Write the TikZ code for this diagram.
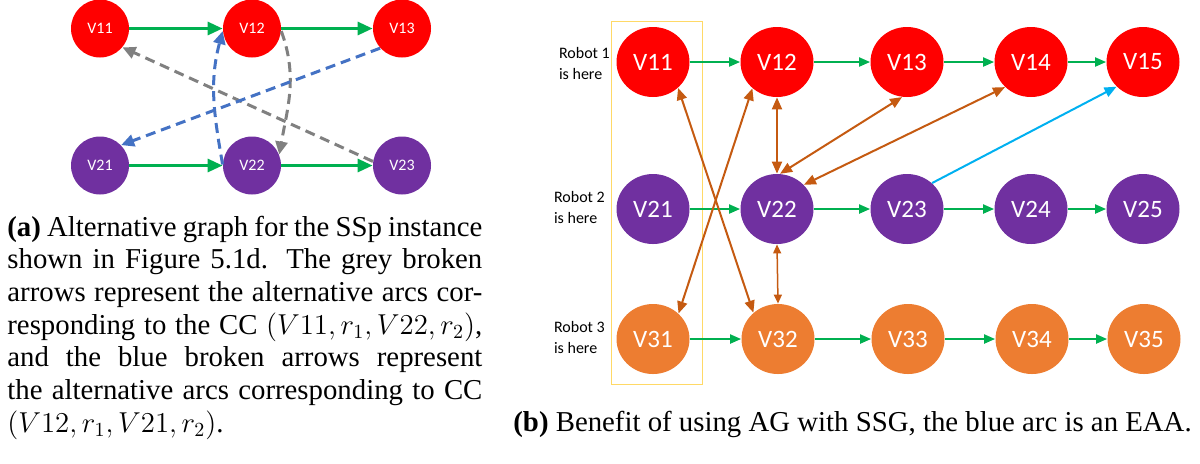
\documentclass[tikz,border=0pt]{standalone}
\usepackage{fontspec}
\setmainfont{Liberation Serif}
\newfontfamily\calibri{Carlito}
\usetikzlibrary{shapes.geometric,arrows.meta}

\definecolor{nodered}{HTML}{FF0000}
\definecolor{nodepurple}{HTML}{7030A0}
\definecolor{nodeorange}{HTML}{ED7D31}
\definecolor{arcgreen}{HTML}{00B050}
\definecolor{arcbrown}{HTML}{C55A11}
\definecolor{arcblue}{HTML}{00B0F0}
\definecolor{dashblue}{HTML}{4472C4}
\definecolor{dashgrey}{HTML}{808080}
\definecolor{boxyellow}{HTML}{FFD966}

\tikzset{
  smallv/.style={circle, minimum size=29pt, inner sep=0pt, text=white,
    font=\calibri\fontsize{8}{9}\selectfont},
  bigv/.style={ellipse, minimum width=36.5pt, minimum height=35pt, inner sep=0pt, text=white,
    font=\calibri\fontsize{12.5}{14}\selectfont},
  robotlabel/.style={anchor=west, align=left, font=\calibri\fontsize{8}{10.5}\selectfont},
  capfont/.style={font=\fontsize{14.4}{16.35}\selectfont},
  % arcs of graph (a)
  seqa/.style={draw=arcgreen, line width=1.5pt, -{Triangle[length=7.5pt,width=6.5pt]}},
  altgrey/.style={draw=dashgrey, line width=1.5pt, dash pattern=on 5pt off 3pt,
    -{Triangle[length=6.5pt,width=6pt]}},
  altblue/.style={draw=dashblue, line width=1.5pt, dash pattern=on 5pt off 3pt,
    -{Triangle[length=6.5pt,width=6pt]}},
  % arcs of graph (b)
  seqb/.style={draw=arcgreen, line width=1pt, -{Triangle[length=5.5pt,width=4.5pt]}},
  pairarc/.style={draw=arcbrown, line width=1pt,
    {Triangle[length=6pt,width=5pt]}-{Triangle[length=6pt,width=5pt]}},
  eaaarc/.style={draw=arcblue, line width=1pt, -{Triangle[length=6pt,width=5pt]}}
}

\begin{document}
\begin{tikzpicture}[x=0.5pt,y=-0.5pt]
\useasboundingbox (0,0) rectangle (1200,463);

% Graph (a)
\node[smallv, fill=nodered] (a11) at (100,28.5) {V11};
\node[smallv, fill=nodered] (a12) at (252,28.5) {V12};
\node[smallv, fill=nodered] (a13) at (402,28.5) {V13};
\node[smallv, fill=nodepurple] (a21) at (100,165.5) {V21};
\node[smallv, fill=nodepurple] (a22) at (252,165.5) {V22};
\node[smallv, fill=nodepurple] (a23) at (402,165.5) {V23};

\draw[seqa] (a11) -- (a12);
\draw[seqa] (a12) -- (a13);
\draw[seqa] (a21) -- (a22);
\draw[seqa] (a22) -- (a23);
\draw[altgrey] (a23.172) -- (a11.-40);
\draw[altgrey] (a12.-5) to[out=-70,in=80] (a22.22);
\draw[altblue] (a13.-138) -- (a21.44);
\draw[altblue] (a22.178) to[out=100,in=-105] (a12.185);

\node[capfont, anchor=base west, text width=237.5pt, align=justify, inner sep=0pt] (capa) at (7,236)
  {\textbf{(a)} Alternative graph for the SSp instance\linebreak
   shown in Figure 5.1d. The grey broken\linebreak
   arrows represent the alternative arcs cor-\linebreak
   responding to the CC $(V11, r_1, V22, r_2)$,\linebreak
   and the blue broken arrows represent\linebreak
   the alternative arcs corresponding to CC\linebreak
   $(V12, r_1, V21, r_2)$.};

% Graph (b)
\draw[boxyellow, line width=0.5pt] (611,21) rectangle (702,384);

\node[robotlabel] (rob1) at (552,63.5) {Robot 1\\is here};
\node[robotlabel] (rob2) at (547,207.5) {Robot 2\\is here};
\node[robotlabel] (rob3) at (547,337) {Robot 3\\is here};

\node[bigv, fill=nodered] (b11) at (653,62) {V11};
\node[bigv, fill=nodered] (b12) at (777,62) {V12};
\node[bigv, fill=nodered] (b13) at (907,62) {V13};
\node[bigv, fill=nodered] (b14) at (1031,62) {V14};
\node[bigv, fill=nodered] (b15) at (1143,62) {V15};
\node[bigv, fill=nodepurple] (b21) at (653,209) {V21};
\node[bigv, fill=nodepurple] (b22) at (777,209) {V22};
\node[bigv, fill=nodepurple] (b23) at (907,209) {V23};
\node[bigv, fill=nodepurple] (b24) at (1031,209) {V24};
\node[bigv, fill=nodepurple] (b25) at (1143,209) {V25};
\node[bigv, fill=nodeorange] (b31) at (653,339) {V31};
\node[bigv, fill=nodeorange] (b32) at (778,339) {V32};
\node[bigv, fill=nodeorange] (b33) at (908,339) {V33};
\node[bigv, fill=nodeorange] (b34) at (1032,339) {V34};
\node[bigv, fill=nodeorange] (b35) at (1144,339) {V35};

\draw[seqb] (b11) -- (b12);
\draw[seqb] (b12) -- (b13);
\draw[seqb] (b13) -- (b14);
\draw[seqb] (b14) -- (b15);
\draw[seqb] (b21) -- (b22);
\draw[seqb] (b22) -- (b23);
\draw[seqb] (b23) -- (b24);
\draw[seqb] (b24) -- (b25);
\draw[seqb] (b31) -- (b32);
\draw[seqb] (b32) -- (b33);
\draw[seqb] (b33) -- (b34);
\draw[seqb] (b34) -- (b35);

\draw[pairarc] (b11.-46) -- (b32.133);
\draw[pairarc] (b12.-133) -- (b31.45);
\draw[pairarc] (b12.south) -- (b22.north);
\draw[pairarc] (b13.-98) -- (b22.85);
\draw[pairarc] (b14.-136) -- (b22.42);
\draw[pairarc, line width=0.75pt, {Triangle[length=4.5pt,width=4pt]}-{Triangle[length=4.5pt,width=4pt]}] (b22.south) -- (b32.north);
\draw[eaaarc] (b23.46) -- (b15.-137);

\node[capfont, anchor=base west, inner sep=0pt] (capb) at (513,431)
  {\textbf{(b)} Benefit of using AG with SSG, the blue arc is an EAA.};
\end{tikzpicture}
\end{document}
